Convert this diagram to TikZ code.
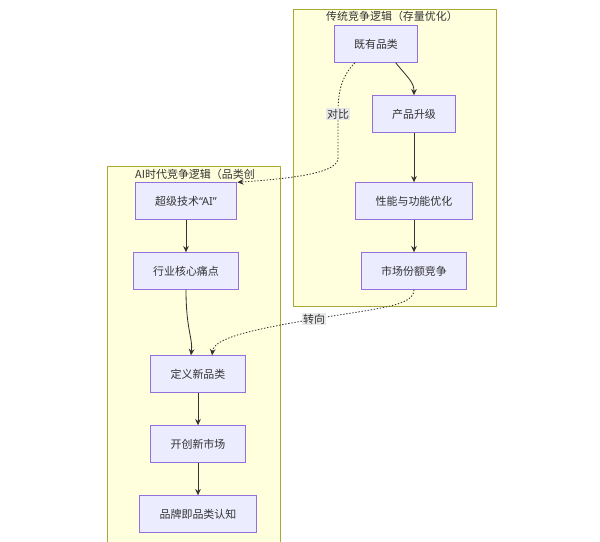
\documentclass[tikz,border=0pt]{standalone}
\usepackage{fontspec}
\setmainfont{Noto Sans CJK SC}
\newfontfamily\latinfont{Noto Sans}
\usetikzlibrary{arrows.meta}
\definecolor{boxfill}{HTML}{ECECFF}
\definecolor{boxline}{HTML}{9370DB}
\definecolor{grpfill}{HTML}{FFFFDE}
\definecolor{grpline}{HTML}{AAAA33}
\definecolor{edgecol}{HTML}{333333}
\definecolor{lblfill}{HTML}{E8E8E8}

\begin{document}
\begin{tikzpicture}[x=0.025cm, y=-0.025cm,
  every node/.style={font=\fontsize{7.8}{9}\selectfont, text=edgecol},
  box/.style={rectangle, draw=boxline, fill=boxfill, line width=0.6pt, minimum height=26pt, inner xsep=14.2pt},
  grp/.style={draw=grpline, fill=grpfill, line width=0.6pt},
  flow/.style={draw=edgecol, line width=0.6pt, -{Stealth[length=4.5pt,width=4pt]}},
  alt/.style={flow, dash pattern=on 1pt off 1.2pt},
  lbl/.style={fill=lblfill, inner sep=1pt}]
\useasboundingbox (0,0) rectangle (600,541);

% groups
\draw[grp] (293,9) rectangle (496,306);
\draw[grp] (107,166) rectangle (280,548);
\node (oldtitle) at (392,16) {传统竞争逻辑（存量优化）};
\node (newtitle) at (195,174) {AI时代竞争逻辑（品类创};

\draw
(376,44) node[box](exist){既有品类}
(414,114) node[box](upgrade){产品升级}
(414,201) node[box](perf){性能与功能优化}
(414,271) node[box](share){市场份额竞争}
(186,201) node[box](tech){超级技术{\latinfont “AI”}}
(186,271) node[box](pain){行业核心痛点}
(198,374) node[box](define){定义新品类}
(198,444) node[box](market){开创新市场}
(198,514) node[box](brand){品牌即品类认知};

\draw[flow] ([xshift=14pt]exist.south) .. controls (408,78) and (414,82) .. (upgrade.north);
\draw[flow] (upgrade) -- (perf);
\draw[flow] (perf) -- (share);
\draw[flow] (tech) -- (pain);
\draw[flow] (pain.south) .. controls (186,330) and (193,338) .. ([xshift=-5pt]define.north);
\draw[flow] (define) -- (market);
\draw[flow] (market) -- (brand);

\draw[alt] ([xshift=-15pt]exist.south) .. controls (340,78) and (338,95) .. (338,114)
  node[lbl](cmp){对比} -- (338,158) .. controls (338,172) and (300,178) .. (tech.north east);
\draw[alt] (share.south) .. controls (414,306) and (380,308) .. (314,319)
  node[lbl](turn){转向} .. controls (250,330) and (214,338) .. ([xshift=10pt]define.north);

\end{tikzpicture}
\end{document}
